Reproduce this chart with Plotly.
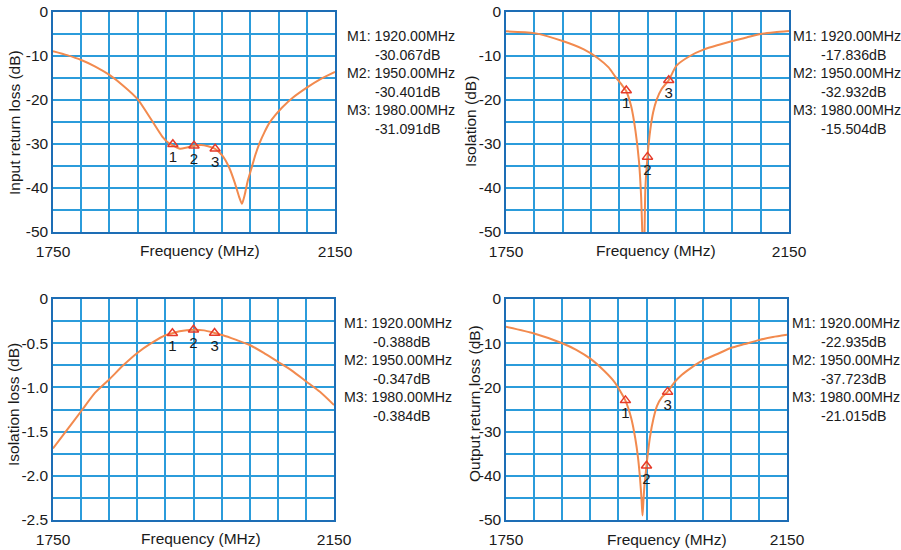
import plotly.graph_objects as go

# ---------------- data ----------------
freq_irl = [1750, 1770, 1790, 1810, 1830, 1850, 1870, 1890, 1905, 1915, 1920, 1930, 1940, 1950,
            1960, 1970, 1980, 1990, 2000, 2008, 2014, 2018, 2022, 2026, 2031, 2037, 2043, 2050,
            2057, 2065, 2075, 2090, 2110, 2130, 2150]
input_return_loss = [-8.9, -9.8, -10.9, -12.4, -14.3, -16.8, -19.8, -24.6, -28.3, -29.9, -30.3, -31.1,
                     -30.8, -30.4, -30.2, -30.5, -31.1, -32.6, -35.4, -38.9, -42.0, -43.6, -41.5, -38.5,
                     -35.8, -32.5, -29.8, -27.3, -25.2, -23.5, -21.7, -19.5, -17.2, -15.2, -13.6]

freq_iso = [1750, 1790, 1830, 1860, 1880, 1895, 1905, 1913, 1920, 1927, 1933, 1938, 1941, 1942.6,
            1944.2, 1945.8, 1947, 1950, 1954, 1958, 1963, 1970, 1980, 1991, 2010, 2030, 2050, 2070,
            2090, 2110, 2130, 2150]
isolation = [-4.4, -4.8, -6.6, -8.5, -10.5, -12.6, -14.8, -16.4, -18.0, -21.5, -27.0, -34.0, -42.0, -50.0,
             -58.0, -50.0, -40.0, -32.9, -26.7, -22.8, -19.9, -17.5, -15.5, -12.2, -10.0, -8.5, -7.5,
             -6.6, -5.8, -5.0, -4.6, -4.3]

freq_il = [1750, 1770, 1790, 1810, 1830, 1850, 1870, 1890, 1910, 1920, 1930, 1950, 1965, 1980, 1992,
           2010, 2030, 2050, 2070, 2090, 2110, 2130, 2150]
isolation_loss = [-1.69, -1.48, -1.27, -1.06, -0.91, -0.75, -0.61, -0.50, -0.41, -0.388, -0.366, -0.347,
                  -0.355, -0.384, -0.41, -0.46, -0.52, -0.61, -0.71, -0.81, -0.93, -1.05, -1.20]

freq_orl = [1750, 1790, 1830, 1850, 1870, 1890, 1905, 1912, 1920, 1928, 1934, 1938, 1941, 1943, 1944.3,
            1945.5, 1947, 1950, 1955, 1960, 1965, 1972, 1980, 1990, 2000, 2015, 2030, 2050, 2070, 2090,
            2110, 2130, 2150]
output_return_loss = [-6.3, -7.8, -10.0, -11.5, -13.5, -16.3, -18.9, -20.7, -23.0, -26.8, -31.5, -36.0,
                      -41.0, -45.5, -49.0, -46.0, -42.4, -37.7, -31.2, -27.0, -24.2, -22.2, -21.0, -18.8,
                      -17.2, -15.4, -13.9, -12.5, -11.1, -10.2, -9.3, -8.6, -8.1]

marker_freqs = [1920, 1950, 1980]
marker_names = ["1", "2", "3"]
markers_irl = [-30.067, -30.401, -31.091]
markers_iso = [-17.836, -32.932, -15.504]
markers_il = [-0.388, -0.347, -0.384]
markers_orl = [-22.935, -37.723, -21.015]

x_tickvals = [1750, 1790, 1830, 1870, 1910, 1950, 1990, 2030, 2070, 2110, 2150]
x_ticktext = ["1750", "", "", "", "", "", "", "", "", "", "2150"]
db_tickvals = [0, -5, -10, -15, -20, -25, -30, -35, -40, -45, -50]
db_ticktext = ["0", "", "-10", "", "-20", "", "-30", "", "-40", "", "-50"]
il_tickvals = [0, -0.25, -0.5, -0.75, -1.0, -1.25, -1.5, -1.75, -2.0, -2.25, -2.5]
il_ticktext = ["0", "", "-0.5", "", "-1.0", "", "-1.5", "", "-2.0", "", "-2.5"]

# ---------------- layout / style ----------------
W, H = 901, 550
FONT = "Liberation Sans, Arial, Helvetica, sans-serif"
TXT = "#1a1a1a"
CURVE = "#f28a4e"
MARK = "#e63b2a"
GRID = "#2b9cdb"
BORDER = "#1d6db5"

panels = [
    dict(f=freq_irl, v=input_return_loss, mk=markers_irl, ytitle="Input return loss (dB)",
         xpx=(53, 335), ypx=(12, 232), yr=(-50, 0), tv=db_tickvals, tt=db_ticktext,
         ytpos=(14, 123), xtpos=(200, 250), mtx=345, mvx=373, mty=36),
    dict(f=freq_iso, v=isolation, mk=markers_iso, ytitle="Isolation (dB)",
         xpx=(506, 789), ypx=(12, 232), yr=(-50, 0), tv=db_tickvals, tt=db_ticktext,
         ytpos=(471, 122), xtpos=(656, 250), mtx=791, mvx=819, mty=36),
    dict(f=freq_il, v=isolation_loss, mk=markers_il, ytitle="Isolation loss (dB)",
         xpx=(53, 334), ypx=(299, 520), yr=(-2.5, 0), tv=il_tickvals, tt=il_ticktext,
         ytpos=(13, 405), xtpos=(201, 538), mtx=342, mvx=371, mty=323),
    dict(f=freq_orl, v=output_return_loss, mk=markers_orl, ytitle="Output return loss (dB)",
         xpx=(506, 787), ypx=(299, 520), yr=(-50, 0), tv=db_tickvals, tt=db_ticktext,
         ytpos=(474, 403), xtpos=(667, 539), mtx=790, mvx=819, mty=323),
]

fig = go.Figure()
annotations = []
layout = dict(width=W, height=H, autosize=False, margin=dict(l=0, r=0, t=0, b=0, pad=0),
              paper_bgcolor="white", plot_bgcolor="white", showlegend=False,
              font=dict(family=FONT, color=TXT, size=15))

LINE_STEP = 18.6
for i, p in enumerate(panels, start=1):
    xa, ya = f"x{i}", f"y{i}"
    xkey, ykey = f"xaxis{i}", f"yaxis{i}"
    layout[xkey] = dict(domain=[p["xpx"][0] / W, p["xpx"][1] / W], anchor=ya, range=[1750, 2150],
                        tickmode="array", tickvals=x_tickvals, ticktext=x_ticktext,
                        showgrid=True, gridcolor=GRID, gridwidth=1.5, zeroline=False,
                        showline=True, linecolor=BORDER, linewidth=1.5, mirror=True,
                        ticks="outside", ticklen=5, tickcolor="rgba(0,0,0,0)", automargin=False,
                        tickfont=dict(size=15.5, color=TXT, family=FONT), fixedrange=True)
    layout[ykey] = dict(domain=[1 - p["ypx"][1] / H, 1 - p["ypx"][0] / H], anchor=xa, range=list(p["yr"]),
                        tickmode="array", tickvals=p["tv"], ticktext=p["tt"],
                        showgrid=True, gridcolor=GRID, gridwidth=1.5, zeroline=False,
                        showline=True, linecolor=BORDER, linewidth=1.5, mirror=True, automargin=False,
                        ticks="", tickfont=dict(size=15.5, color=TXT, family=FONT), fixedrange=True)

    fig.add_trace(go.Scatter(x=p["f"], y=p["v"], mode="lines", xaxis=xa, yaxis=ya,
                             line=dict(color=CURVE, width=2, shape="spline", smoothing=0.6),
                             hoverinfo="skip"))
    fig.add_trace(go.Scatter(x=marker_freqs, y=p["mk"], mode="markers+text", xaxis=xa, yaxis=ya,
                             text=marker_names, textposition="bottom center",
                             textfont=dict(size=15, color=TXT, family=FONT),
                             marker=dict(symbol="triangle-up-open", size=9, color=MARK,
                                         line=dict(width=1.5, color=MARK)),
                             cliponaxis=False, hoverinfo="skip"))

    # axis titles
    annotations.append(dict(text=p["ytitle"], x=p["ytpos"][0] / W, y=1 - p["ytpos"][1] / H,
                            xref="paper", yref="paper", textangle=-90, showarrow=False,
                            xanchor="center", yanchor="middle", font=dict(size=15.5, color=TXT)))
    annotations.append(dict(text="Frequency (MHz)", x=p["xtpos"][0] / W, y=1 - p["xtpos"][1] / H,
                            xref="paper", yref="paper", showarrow=False,
                            xanchor="center", yanchor="middle", font=dict(size=15.5, color=TXT)))
    # marker readouts
    for k, (mf, mv) in enumerate(zip(marker_freqs, p["mk"])):
        y1 = p["mty"] + LINE_STEP * (2 * k)
        y2 = p["mty"] + LINE_STEP * (2 * k + 1)
        annotations.append(dict(text=f"M{k + 1}: {mf:.2f}MHz", x=p["mtx"] / W, y=1 - y1 / H,
                                xref="paper", yref="paper", showarrow=False,
                                xanchor="left", yanchor="middle", font=dict(size=14.2, color=TXT)))
        annotations.append(dict(text=f"{mv:.3f}dB", x=p["mvx"] / W, y=1 - y2 / H,
                                xref="paper", yref="paper", showarrow=False,
                                xanchor="left", yanchor="middle", font=dict(size=14.2, color=TXT)))

layout["annotations"] = annotations
fig.update_layout(**layout)
fig.write_html("out.html", config={"displayModeBar": False},
               post_script="document.body.style.margin='0px';document.body.style.overflow='hidden';")
